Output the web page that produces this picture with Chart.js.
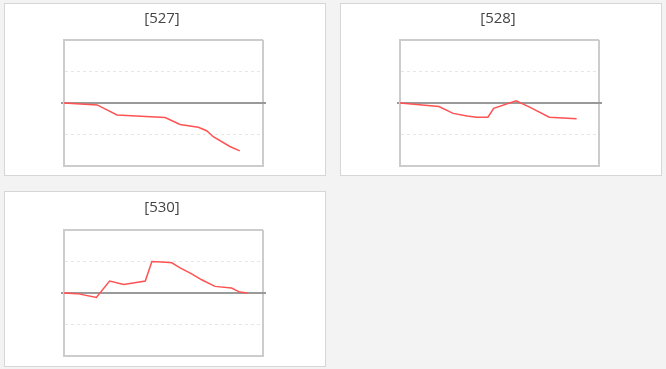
<!DOCTYPE html>
<html lang="en">
<head>
    <meta charset="UTF-8">
    <script src="https://cdn.jsdelivr.net/npm/chart.js@4/dist/chart.umd.min.js"></script>
    <title>Mini charts</title>
    <style>
        body { margin: 0; background: #f3f3f3; font-family: "Open Sans", sans-serif; }
        .panel { position: absolute; background: #fff; border: 1px solid #d6d6d6; }
    </style>
</head>
<body>

    <div class="panel" style="left:4px; top:3px; width:320px; height:171px;"><canvas id="c527"></canvas></div>
    <div class="panel" style="left:340px; top:3px; width:320px; height:171px;"><canvas id="c528"></canvas></div>
    <div class="panel" style="left:4px; top:191px; width:320px; height:174px;"><canvas id="c530"></canvas></div>

    <script>
        // minutes since open, value
        const times527 = [0, 40, 64, 122, 140, 162, 172, 180, 200, 212];
        const vals527  = [0, -0.06, -0.38, -0.46, -0.68, -0.77, -0.88, -1.07, -1.38, -1.52];

        const times528 = [0, 47, 64, 81, 92, 106, 113, 140, 157, 180, 213];
        const vals528  = [0, -0.11, -0.33, -0.41, -0.45, -0.45, -0.17, 0.07, -0.14, -0.45, -0.5];

        const times530 = [0, 16, 39, 55, 72, 98, 106, 123, 130, 140, 154, 166, 182, 202, 212, 221];
        const vals530  = [0, -0.02, -0.14, 0.38, 0.27, 0.38, 1.0, 0.98, 0.96, 0.8, 0.61, 0.42, 0.21, 0.16, 0.03, 0];

        const yTicks = [-2, -1, 0, 1, 2];

        function gridColor(ctx) {
            if (!ctx.tick) return '#cccccc';
            const v = ctx.tick.value;
            if (v === 0) return '#9a9a9a';
            if (Math.abs(v) === 2) return '#cccccc';
            return '#e6e6e6';
        }

        function makeChart(id, title, times, vals, w, h, pad, titlePad) {
            const canvas = document.getElementById(id);
            canvas.width = w;
            canvas.height = h;
            const points = times.map((t, i) => ({ x: t, y: vals[i] }));
            new Chart(canvas, {
                type: 'line',
                data: {
                    datasets: [{
                        data: points,
                        borderColor: '#ff5252',
                        borderWidth: 1.5,
                        pointRadius: 0,
                        tension: 0,
                        fill: false,
                    }],
                },
                options: {
                    responsive: false,
                    animation: false,
                    layout: { padding: pad },
                    plugins: {
                        legend: { display: false },
                        tooltip: { enabled: false },
                        title: {
                            display: true,
                            text: title,
                            color: '#444',
                            font: { family: 'Open Sans', size: 15, weight: 'normal', lineHeight: 1.2 },
                            padding: titlePad,
                        },
                    },
                    scales: {
                        x: {
                            type: 'linear',
                            min: 0,
                            max: 240,
                            ticks: { display: false, stepSize: 240 },
                            grid: { color: '#cccccc', lineWidth: 2, drawTicks: false },
                            border: { color: '#cccccc', width: 2 },
                        },
                        y: {
                            min: -2,
                            max: 2,
                            afterBuildTicks: axis => { axis.ticks = yTicks.map(v => ({ value: v })); },
                            ticks: { display: false },
                            grid: {
                                color: gridColor,
                                lineWidth: ctx => (ctx.tick && Math.abs(ctx.tick.value) === 1 ? 1 : 2),
                                tickLength: 3,
                                tickColor: ctx => (ctx.tick && ctx.tick.value === 0 ? '#9a9a9a' : 'rgba(0,0,0,0)'),
                                tickWidth: 2,
                            },
                            border: {
                                color: '#cccccc',
                                width: 2,
                                dash: ctx => (ctx.tick && Math.abs(ctx.tick.value) === 1 ? [3, 3] : []),
                            },
                        },
                    },
                },
                plugins: [{
                    id: 'zeroRight',
                    afterDraw(chart) {
                        const y = chart.scales.y.getPixelForValue(0);
                        const c = chart.ctx;
                        c.save();
                        c.strokeStyle = '#9a9a9a';
                        c.lineWidth = 2;
                        c.beginPath();
                        c.moveTo(chart.chartArea.right, y);
                        c.lineTo(chart.chartArea.right + 3, y);
                        c.stroke();
                        c.restore();
                    },
                }],
            });
        }

        makeChart('c527', '[527]', times527, vals527, 320, 171,
            { left: 56, right: 62, top: 0, bottom: 9 }, { top: 6, bottom: 12 });
        makeChart('c528', '[528]', times528, vals528, 320, 171,
            { left: 56, right: 62, top: 0, bottom: 9 }, { top: 6, bottom: 12 });
        makeChart('c530', '[530]', times530, vals530, 320, 174,
            { left: 56, right: 62, top: 0, bottom: 10 }, { top: 7, bottom: 13 });
    </script>

</body>
</html>
